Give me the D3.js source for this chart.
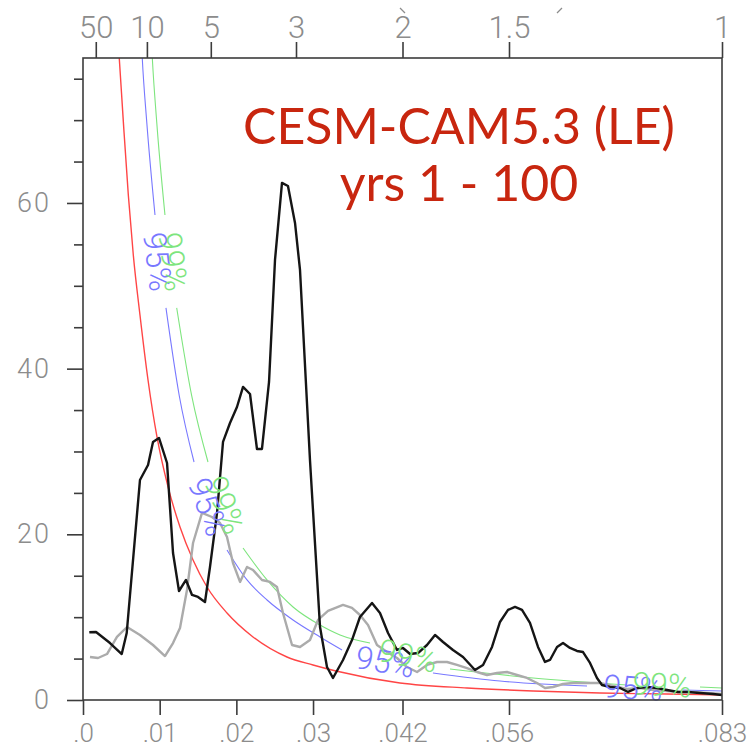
<!DOCTYPE html>
<html>
<head>
<meta charset="utf-8">
<script src="https://cdn.jsdelivr.net/npm/d3@7"></script>
<style>
  body { margin: 0; background: #fff; }
  .tick text { font-family: Roboto, "DejaVu Sans", sans-serif; font-weight: 300; fill: #8c8c8c; }
</style>
</head>
<body>
<div id="container"></div>
<script>
/* CONSTANTS AND GLOBALS */
const width = 754;
const height = 747;
const margin = {top: 58, bottom: 47, left: 83, right: 32};

/* DATA (frequency in cycles/month, spectrum values) */
const freqBlack = [0.00082,0.0017,0.00352,0.00505,0.0057,0.00743,0.00848,0.00913,0.00991,0.01096,
  0.01174,0.01252,0.01343,0.01422,0.015,0.01591,0.01656,0.01748,0.01826,0.01917,
  0.02008,0.02087,0.02178,0.02269,0.02334,0.02426,0.02504,0.02595,0.02673,0.02765,
  0.0283,0.0296,0.03091,0.03182,0.0326,0.03391,0.03508,0.03612,0.03769,0.03873,
  0.03978,0.04095,0.04173,0.04265,0.04369,0.04486,0.04591,0.04695,0.04825,0.04956,
  0.05112,0.05217,0.05334,0.05438,0.05543,0.05634,0.05725,0.05829,0.05934,0.06025,
  0.0609,0.06182,0.0626,0.06351,0.06442,0.06521,0.06612,0.06703,0.06768,0.06873,
  0.07003,0.07108,0.07225,0.07355,0.07486,0.07616,0.0776,0.0789,0.08046,0.08216,0.08333];
const specBlack = [8.17,8.21,6.88,5.55,8.09,26.56,28.37,31.15,31.63,28.61,
  17.75,13.16,14.49,12.68,12.44,11.83,16.06,22.58,31.15,33.44,
  35.37,37.79,36.94,30.3,30.3,38.39,53.12,62.42,62.05,57.59,
  51.91,28.97,8.81,3.98,2.66,4.83,7.24,10.02,11.71,10.5,
  8.09,6.04,6.28,5.55,5.67,6.64,7.85,7.0,6.04,5.19,
  3.62,4.23,6.4,9.42,10.87,11.23,10.87,9.3,6.4,4.59,
  4.83,6.4,6.88,6.28,5.92,5.79,4.47,2.66,1.81,1.57,
  1.45,0.97,1.45,1.57,1.45,1.21,0.97,0.97,0.85,0.72,0.6];

const freqGray = [0.00091,0.00196,0.00313,0.00443,0.00574,0.00743,0.00913,0.01069,0.01174,0.01265,
  0.01356,0.01435,0.01552,0.01682,0.01787,0.01878,0.01956,0.02048,0.02139,0.02217,
  0.02334,0.02439,0.0253,0.02608,0.02726,0.0283,0.0296,0.03065,0.03195,0.03391,
  0.03508,0.03612,0.03717,0.03834,0.03965,0.04095,0.04225,0.04356,0.04486,0.04617,
  0.04747,0.04877,0.05008,0.05138,0.05269,0.05399,0.0553,0.0566,0.0579,0.05921,
  0.06025,0.06129,0.0626,0.0639,0.06573,0.06742,0.06912,0.07094,0.07264,0.07434,
  0.07616,0.07786,0.07955,0.08138,0.08333];
const specGray = [5.19,5.07,5.55,7.61,8.81,7.85,6.64,5.31,6.88,8.69,
  13.28,18.95,22.58,22.09,21.37,19.68,16.54,14.25,16.06,15.69,
  14.49,14.25,13.64,10.5,6.64,6.4,7.24,9.66,10.75,11.47,
  11.11,10.26,9.05,6.64,5.79,5.07,3.98,3.38,4.23,4.59,
  4.59,4.23,3.86,3.38,3.02,3.26,3.38,3.02,2.66,2.05,
  1.45,1.57,1.93,2.05,2.05,2.05,1.69,1.33,1.45,1.21,
  1.09,0.97,0.97,0.85,0.72];

// theoretical red-noise spectrum
const freqRed = [0.00424,0.00473,0.00526,0.00591,0.00656,0.00743,0.00848,0.00965,0.01109,0.01265,
  0.01435,0.01617,0.01878,0.02217,0.0266,0.03,0.03299,0.04134,0.05008,0.05869,0.06742,0.07616,0.08333];
const specRed = [83.9,77.47,69.82,60.97,53.72,46.48,38.63,31.75,25.72,20.89,
  16.9,13.64,10.5,7.61,5.19,4.23,3.5,2.05,1.45,1.09,0.85,0.72,0.6];

// 95% confidence curve (null = gap left for the inline label)
const freqBlue = [0.0075,0.00773,0.00831,0.00939,null,0.01082,0.01256,0.01448,null,0.01878,
  0.02139,0.024,0.02739,0.03091,0.03378,null,0.04564,0.05438,0.06573,null,0.07825,0.08333];
const specBlue = [82.1,77.47,69.82,58.55,null,47.33,36.7,28.73,null,18.11,
  14.49,12.07,9.66,7.61,6.04,null,3.26,2.29,1.69,null,1.21,1.09];

// 99% confidence curve
const freqGreen = [0.00874,0.00904,0.00961,0.01069,null,0.01222,0.01418,0.0163,null,0.02087,
  0.024,0.02739,0.03091,0.03352,0.03743,null,0.04786,0.05869,0.07094,null,0.08046,0.08333];
const specGreen = [83.3,77.47,69.82,58.55,null,47.33,36.7,28.73,null,18.35,
  14.49,11.23,9.05,7.85,6.88,null,3.74,2.66,1.81,null,1.57,1.45];

// inline curve labels: anchor frequency, value and angle
const labelText  = ["95%","99%","95%","99%","95%","99%","95%","99%"];
const labelColor = ["blue","green","blue","green","blue","green","blue","green"];
const labelFreq  = [0.00972,0.01174,0.0163,0.01852,0.03938,0.04238,0.07173,0.07551];
const labelSpec  = [52.9,52.9,23.3,23.54,4.59,5.31,1.45,1.81];
const labelAngle = [83,83,70,68,10,12,4,3];

const bottomTicks = [0, 0.01, 0.02, 0.03, 1/24, 1/18, 1/12];
const bottomTickLabels = [".0", ".01", ".02", ".03", ".042", ".056", ".083"];
const periodTicks = [50, 10, 5, 3, 2, 1.5, 1];   // years
const yMajorTicks = [0, 20, 40, 60];
const yMinorTicks = [5, 10, 15, 25, 30, 35, 45, 50, 55, 65, 70, 75];

const titleLines = ["CESM-CAM5.3 (LE)", "yrs 1 - 100"];

const colors = {black: "#151515", gray: "#ababab", red: "#ff4545", blue: "#7878ff", green: "#7ee57e"};

/* SCALES */
const xScale = d3.scaleLinear()
  .domain([0, 1/12])
  .range([margin.left, width - margin.right]);

const yScale = d3.scaleLinear()
  .domain([0, 77.5])
  .range([height - margin.bottom, margin.top]);

/* SVG */
const svg = d3.select("#container")
  .append("svg")
  .attr("width", width)
  .attr("height", height);

svg.append("clipPath").attr("id", "plot-clip")
  .append("rect")
  .attr("x", margin.left)
  .attr("y", margin.top)
  .attr("width", xScale.range()[1] - margin.left)
  .attr("height", yScale.range()[0] - margin.top);

const zip = (fs, vs) => fs.map((f, i) => ({f: f, v: vs[i]}));

const lineLinear = d3.line()
  .defined(d => d.v != null)
  .x(d => xScale(d.f))
  .y(d => yScale(d.v));

const lineSmooth = d3.line()
  .defined(d => d.v != null)
  .curve(d3.curveMonotoneX)
  .x(d => xScale(d.f))
  .y(d => yScale(d.v));

const plot = svg.append("g").attr("clip-path", "url(#plot-clip)");

plot.append("path")
  .datum(zip(freqRed, specRed))
  .attr("d", lineSmooth)
  .attr("fill", "none")
  .attr("stroke", colors.red)
  .attr("stroke-width", 1.4);

plot.append("path")
  .datum(zip(freqBlue, specBlue))
  .attr("d", lineSmooth)
  .attr("fill", "none")
  .attr("stroke", colors.blue)
  .attr("stroke-width", 1.1);

plot.append("path")
  .datum(zip(freqGreen, specGreen))
  .attr("d", lineSmooth)
  .attr("fill", "none")
  .attr("stroke", colors.green)
  .attr("stroke-width", 1.1);

plot.append("path")
  .datum(zip(freqGray, specGray))
  .attr("d", lineLinear)
  .attr("fill", "none")
  .attr("stroke", colors.gray)
  .attr("stroke-width", 2.4)
  .attr("stroke-linejoin", "round");

plot.append("path")
  .datum(zip(freqBlack, specBlack))
  .attr("d", lineLinear)
  .attr("fill", "none")
  .attr("stroke", colors.black)
  .attr("stroke-width", 2.4)
  .attr("stroke-linejoin", "round");

// curve labels
svg.append("g").selectAll("text")
  .data(labelText.map((t, i) => ({t: t, c: labelColor[i], f: labelFreq[i], v: labelSpec[i], a: labelAngle[i]})))
  .join("text")
  .attr("transform", d => `translate(${xScale(d.f)},${yScale(d.v)}) rotate(${d.a})`)
  .attr("text-anchor", "middle")
  .attr("dominant-baseline", "central")
  .attr("font-family", "Roboto, 'DejaVu Sans', sans-serif")
  .attr("font-weight", 300)
  .attr("font-size", 32)
  .attr("fill", d => colors[d.c])
  .text(d => d.t);

/* AXES */
const plotBottom = yScale.range()[0];
const plotTop = margin.top;

svg.append("g")
  .attr("transform", `translate(0,${plotBottom})`)
  .call(d3.axisBottom(xScale).tickValues(bottomTicks)
    .tickFormat((d, i) => bottomTickLabels[i]).tickSize(15).tickPadding(9))
  .call(g => g.select(".domain").remove())
  .selectAll("text").attr("font-size", 26);

svg.append("g")
  .attr("transform", `translate(0,${plotTop})`)
  .call(d3.axisTop(xScale).tickValues(periodTicks.map(p => 1 / (12 * p)))
    .tickFormat((d, i) => periodTicks[i]).tickSize(16).tickPadding(4))
  .call(g => g.select(".domain").remove())
  .selectAll("text").attr("font-size", 31);

svg.append("g")
  .attr("transform", `translate(${margin.left},0)`)
  .call(d3.axisLeft(yScale).tickValues(yMajorTicks).tickSize(16).tickPadding(16))
  .call(g => g.select(".domain").remove())
  .selectAll("text").attr("font-size", 27).attr("letter-spacing", 2);

svg.append("g")
  .attr("transform", `translate(${margin.left},0)`)
  .call(d3.axisLeft(yScale).tickValues(yMinorTicks).tickSize(9).tickFormat(""))
  .call(g => g.select(".domain").remove());

svg.selectAll(".tick line").attr("stroke", "#3c3c3c").attr("stroke-width", 1.6);

// two stray stroke marks above the top axis
svg.append("path")
  .attr("d", "M400,8L405,13M562,8L557,13")
  .attr("stroke", "#8c8c8c")
  .attr("stroke-width", 1.3)
  .attr("fill", "none");

// frame
svg.append("rect")
  .attr("x", margin.left)
  .attr("y", plotTop)
  .attr("width", xScale.range()[1] - margin.left)
  .attr("height", plotBottom - plotTop)
  .attr("fill", "none")
  .attr("stroke", "#3c3c3c")
  .attr("stroke-width", 1.6);

/* TITLE */
svg.append("g").selectAll("text")
  .data(titleLines)
  .join("text")
  .attr("x", 459)
  .attr("y", (d, i) => 144 + i * 57)
  .attr("text-anchor", "middle")
  .attr("font-family", "Lato, 'Open Sans', sans-serif")
  .attr("font-size", 50)
  .attr("fill", "#c8260f")
  .text(d => d);
</script>
</body>
</html>
